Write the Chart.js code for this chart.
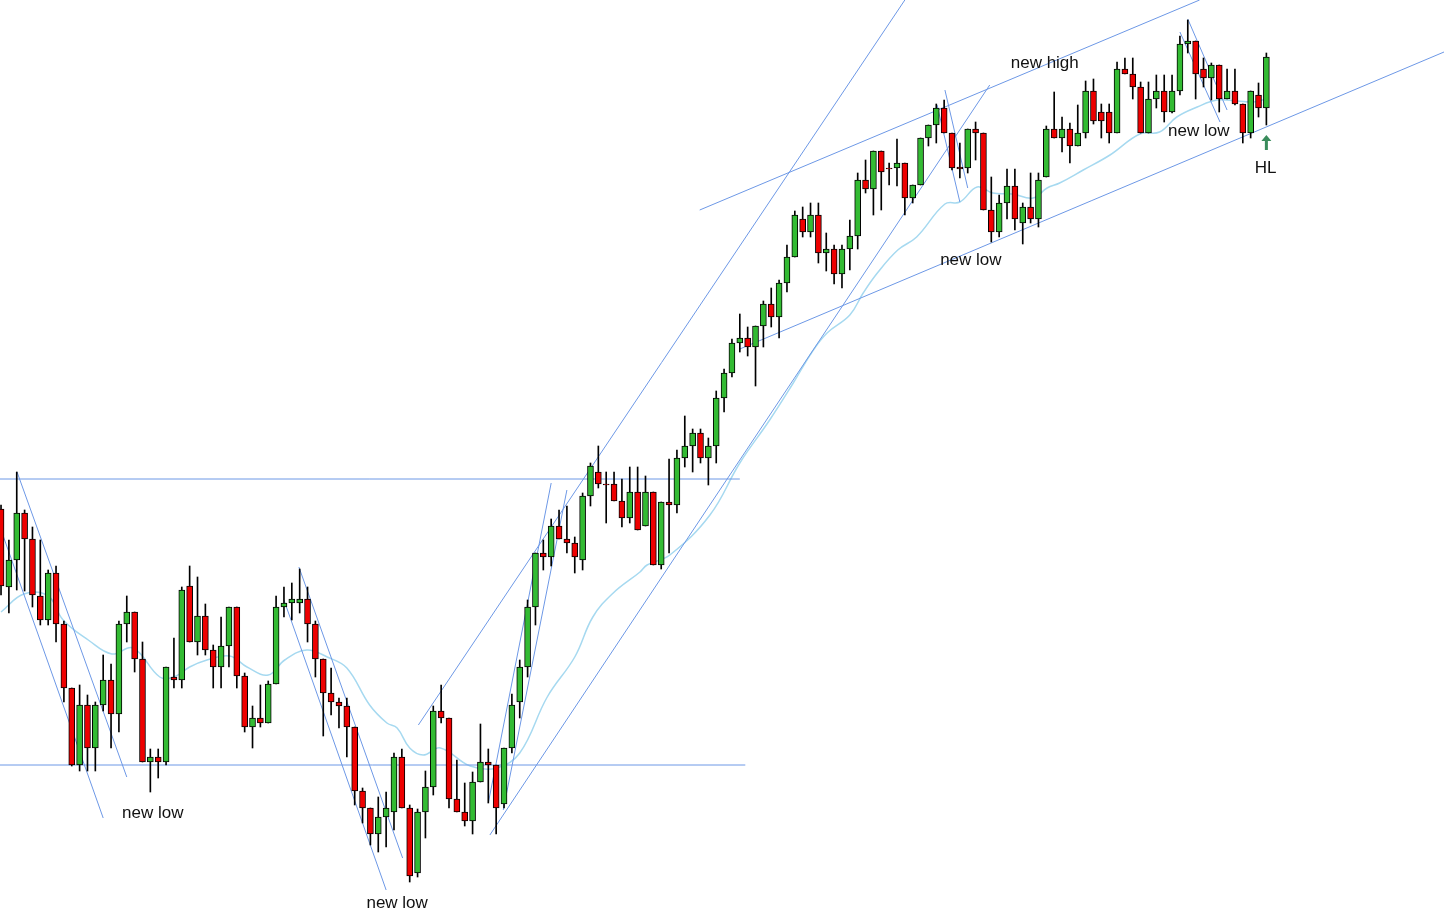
<!DOCTYPE html>
<html><head><meta charset="utf-8">
<script src="https://cdn.jsdelivr.net/npm/chart.js@4.4.1/dist/chart.umd.min.js"></script>
<style>html,body{margin:0;padding:0;background:#fff;overflow:hidden}</style>
</head><body>
<canvas id="c" width="1444" height="914" style="width:1444px;height:914px;display:block"></canvas>
<script>
// candle values in chart units (scale is inverted: smaller = higher)
const opens=[509,587,560,513,539,596,620,573,624,688,765,705,748,705,680,714,624,612,659,762,757,762,677,680,586,642,616,650,667,646,607,676,727,718,723,684,607,603,603,599,624,659,693,702,706,727,791,808,834,817,812,757,808,873,812,787,711,718,799,812,821,782,762,765,804,748,702,667,607,553,557,526,539,543,560,496,472,484,484,501,518,492,526,492,565,502,505,458,446,433,458,446,398,373,343,338,347,326,304,317,283,257,219,232,215,253,249,274,249,236,180,189,151,168,168,163,198,185,138,125,108,133,167,168,129,133,210,232,203,186,223,207,219,177,129,138,129,146,133,91,112,112,133,69,74,87,133,99,91,112,91,44,41,69,78,65,99,91,104,133,95,108];
const closes=[586,560,513,539,595,620,573,624,688,765,705,748,705,680,714,624,612,659,762,757,762,667,680,590,642,616,650,667,646,607,676,727,718,723,684,607,603,599,599,624,659,693,702,706,727,791,808,834,817,808,757,808,876,812,787,711,718,799,812,821,782,762,765,808,748,705,667,607,553,557,526,539,543,557,496,466,484,485,501,518,492,530,492,565,502,505,458,446,433,458,446,398,373,343,338,347,326,304,317,283,257,215,232,215,253,249,274,249,236,180,189,151,172,169,163,198,185,138,125,108,133,168,169,129,133,210,232,203,186,219,207,219,180,129,138,129,146,133,91,121,121,133,69,74,87,133,99,91,112,91,44,41,74,78,65,99,91,104,133,91,108,57];
const highs=[505,540,472,510,527,540,570,566,621,688,685,695,702,655,664,621,596,612,642,749,749,667,638,587,566,577,604,645,617,607,607,673,706,685,681,596,587,583,569,587,621,659,668,698,698,727,788,808,797,792,753,749,805,809,771,706,685,718,760,783,772,724,749,765,748,694,660,600,553,540,519,510,506,537,493,463,446,472,472,479,467,467,476,492,502,459,450,416,429,429,438,391,369,339,314,327,326,301,288,280,245,211,207,203,203,233,245,245,220,173,160,151,151,163,139,163,185,138,125,104,100,133,143,129,122,133,177,195,169,169,203,173,173,126,92,117,123,105,81,79,104,104,62,58,58,82,82,75,75,75,36,20,41,58,63,65,69,69,104,91,83,53];
const lows=[595,613,590,591,607,625,625,642,702,766,771,771,771,711,748,732,642,672,762,792,778,765,688,688,642,655,655,688,688,667,688,732,748,727,723,684,617,620,613,642,677,736,715,728,757,805,823,845,852,847,830,808,882,877,838,795,723,808,812,826,834,782,803,834,808,753,718,677,625,570,566,539,553,573,570,506,488,523,501,527,523,530,526,565,569,553,513,467,472,463,485,463,412,377,352,356,386,347,327,338,292,257,237,237,263,271,284,288,270,249,193,215,210,185,186,215,203,185,146,143,133,170,178,173,160,210,242,237,219,230,244,223,227,177,138,152,163,146,138,124,138,143,133,74,99,133,133,108,122,113,95,53,99,87,100,112,99,105,143,138,117,125];

// moving average (x in bar index)
const maX=[0,2.9,6,7.9,11.1,14.1,16.8,20.2,22,24,26.2,29.1,31.3,34,36.1,38.9,41.5,44,46.9,49.1,50.4,52,53.7,55.9,59.7,63.1,66,69.5,73,75.3,77.9,81.3,82.2,85.1,90.2,94,97.8,100.8,103.2,105.1,108,109.7,111.5,114.1,116.5,120.1,122,124.2,126.2,128.7,131.3,133.1,134.7,137.7,141.1,144.9,147.4,149.6,152.2,154.7,157.3,159.3,161];
const maY=[612,594,596,620,640,654,648,677,677,667,660,656,667,675,660,650,657,668,705,723,728,748,755,748,766,768,753,697,657,617,593,572,565,555,515,463,420,383,352,333,315,293,273,250,237,204,202,187,193,194,198,188,183,170,155,134,132,117,107,100,101,102,99];

// trendlines: [x1,y1,x2,y2] in bar index / chart units
const trendLines=[
 [-0.13,479,94.0,479],[-0.13,765,94.7,765],
 [2.04,472,16.0,777],[-0.13,527,13.0,818],
 [37.9,567,51.1,858],[36.0,600,49.0,890],
 [53.1,725,115.0,0],[62.2,835,125.8,85],
 [62.0,803,70.0,483],[63.9,810,72.0,490],
 [88.9,210,152.5,0],[94.0,349,183.6,52],
 [119.1,105,122.0,202],[120.1,90,123.0,188],
 [150.0,32,155.1,122],[151.0,19,156.0,110]
];
const labelTexts=["new low","new low","new low","new low","new high","HL"];
const labelX=[19.3,50.4,123.4,152.4,132.8,160.9];
const labelY=[813,903,260,131,63,168];
const arrowX=161, arrowTop=135, arrowBottom=150;

const idx=opens.map((_,i)=>i);
const wicks=idx.map(i=>({x:i,y:[highs[i],lows[i]]}));
const bodies=idx.map(i=>{let a=opens[i],b=closes[i];if(Math.abs(a-b)<1)b=a+1;return {x:i,y:[a,b]};});
const bodyColors=idx.map(i=>closes[i]<opens[i]?'#33bb33':'#ee0000');

const lineSets=trendLines.map(t=>({type:'line',data:[{x:t[0],y:t[1]},{x:t[2],y:t[3]}],borderColor:'#6d98e6',borderWidth:1,pointRadius:0,order:3}));

const labelPlugin={id:'labels',afterDraw(ch){
 const c=ch.ctx,xs=ch.scales.x,ys=ch.scales.y;
 c.save();c.font='17px "Liberation Sans", Arial, sans-serif';c.fillStyle='#111';c.textAlign='center';c.textBaseline='middle';
 labelTexts.forEach((t,i)=>c.fillText(t,xs.getPixelForValue(labelX[i]),ys.getPixelForValue(labelY[i])));
 const ax=xs.getPixelForValue(arrowX),at=ys.getPixelForValue(arrowTop),ab=ys.getPixelForValue(arrowBottom);
 c.fillStyle='#3a8c5c';c.beginPath();c.moveTo(ax,at);c.lineTo(ax+5,at+6);c.lineTo(ax+1.5,at+6);c.lineTo(ax+1.5,ab);c.lineTo(ax-1.5,ab);c.lineTo(ax-1.5,at+6);c.lineTo(ax-5,at+6);c.closePath();c.fill();
 c.restore();}};

new Chart(document.getElementById('c'),{
 type:'bar',
 data:{datasets:[
  {type:'line',data:maX.map((x,i)=>({x,y:maY[i]})),borderColor:'#a6d9f0',borderWidth:1.5,pointRadius:0,tension:0.4,order:4},
  ...lineSets,
  {type:'bar',data:wicks,backgroundColor:'#000',barThickness:1,grouped:false,order:2},
  {type:'bar',data:bodies,backgroundColor:bodyColors,borderColor:'#000',borderWidth:1,borderSkipped:false,barThickness:6,grouped:false,order:1}
 ]},
 options:{responsive:false,animation:false,layout:{padding:0},
  plugins:{legend:{display:false},tooltip:{enabled:false}},
  scales:{x:{type:'linear',min:-0.13,max:183.6,display:false,offset:false,bounds:'ticks',grid:{offset:false}},
          y:{type:'linear',min:0,max:914,reverse:true,display:false}}},
 plugins:[labelPlugin]
});
</script>
</body></html>
